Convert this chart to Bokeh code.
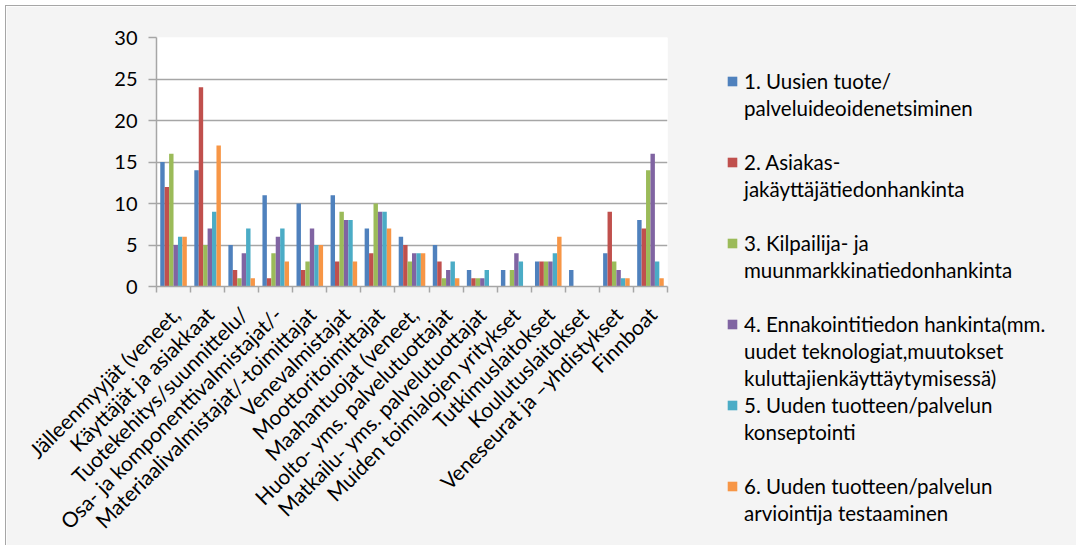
import math
from bokeh.plotting import figure
from bokeh.models import (ColumnDataSource, Range1d, FixedTicker, LinearAxis,
                          Legend, LegendItem, Grid)
from bokeh.transform import dodge
from bokeh.embed import file_html
from bokeh.resources import INLINE

categories = ["Jälleenmyyjät (veneet,", "Käyttäjät ja asiakkaat",
              "Tuotekehitys/suunnittelu/", "Osa- ja komponenttivalmistajat/-",
              "Materiaalivalmistajat/-toimittajat", "Venevalmistajat",
              "Moottoritoimittajat", "Maahantuojat (veneet,",
              "Huolto- yms. palvelutuottajat", "Matkailu- yms. palvelutuottajat",
              "Muiden toimialojen yritykset", "Tutkimuslaitokset",
              "Koulutuslaitokset", "Veneseurat ja –yhdistykset", "Finnboat"]

s1 = [15, 14, 5, 11, 10, 11, 7, 6, 5, 2, 2, 3, 2, 4, 8]
s2 = [12, 24, 2, 1, 2, 3, 4, 5, 3, 1, 0, 3, 0, 9, 7]
s3 = [16, 5, 1, 4, 3, 9, 10, 3, 1, 1, 2, 3, 0, 3, 14]
s4 = [5, 7, 4, 6, 7, 8, 9, 4, 2, 1, 4, 3, 0, 2, 16]
s5 = [6, 9, 7, 7, 5, 8, 9, 4, 3, 2, 3, 4, 0, 1, 3]
s6 = [6, 17, 1, 3, 5, 3, 7, 4, 1, 0, 0, 6, 0, 1, 1]

series_lines = [
    ["1. Uusien tuote/", "palveluideoidenetsiminen", " "],
    ["2. Asiakas-", "jakäyttäjätiedonhankinta", " "],
    ["3. Kilpailija- ja", "muunmarkkinatiedonhankinta", " "],
    ["4. Ennakointitiedon hankinta(mm.", "uudet teknologiat,muutokset",
     "kuluttajienkäyttäytymisessä)"],
    ["5. Uuden tuotteen/palvelun", "konseptointi", " "],
    ["6. Uuden tuotteen/palvelun", "arviointija testaaminen"],
]
colors = ["#4F81BD", "#C0504D", "#9BBB59", "#8064A2", "#4BACC6", "#F79646"]
y_ticks = [0, 5, 10, 15, 20, 25, 30]

FONT = "Lato"
n = len(categories)
centers = [i + 0.5 for i in range(n)]
source = ColumnDataSource(dict(x=centers, s1=s1, s2=s2, s3=s3, s4=s4, s5=s5, s6=s6))

p = figure(frame_width=511, frame_height=249,
           x_range=Range1d(0, n), y_range=Range1d(0, 30),
           output_backend="svg", toolbar_location=None,
           min_border_left=150, min_border_top=31,
           min_border_right=399, min_border_bottom=250,
           background_fill_color="white", border_fill_color="#f4f4f4",
           x_axis_type=None, y_axis_type=None)
p.outline_line_color = None
p.styles = {"margin-left": "5px", "margin-top": "5px",
            "border-left": "1px solid #a6a6a6", "border-top": "1px solid #a6a6a6"}

bw = 0.13
keys = ["s1", "s2", "s3", "s4", "s5", "s6"]
renderers = []
for i, (k, c) in enumerate(zip(keys, colors)):
    r = p.vbar(x=dodge("x", (i - 2.5) * bw, range=p.x_range), top=k, width=bw,
               source=source, fill_color=c, line_color=None)
    renderers.append(r)

# invisible renderer used for the continuation lines of the legend
blank = p.vbar(x=[], top=[], width=bw, fill_alpha=0, line_alpha=0)

# y axis
yax = LinearAxis(ticker=FixedTicker(ticks=y_ticks, minor_ticks=[]))
yax.axis_line_color = "#a6a6a6"
yax.axis_line_width = 1.5
yax.major_tick_line_color = "#a6a6a6"
yax.major_tick_line_width = 1.5
yax.major_tick_out = 8
yax.major_tick_in = 0
yax.major_label_standoff = 11
yax.major_label_text_font = FONT
yax.major_label_text_font_size = "20px"
yax.major_label_text_color = "#000000"
p.add_layout(yax, "left")

# x axis: labels near group centres, tick marks at group boundaries
label_pos = [c + 0.06 for c in centers]
xax = LinearAxis(ticker=FixedTicker(ticks=label_pos, minor_ticks=list(range(n + 1))))
xax.major_label_overrides = {c: lab for c, lab in zip(label_pos, categories)}
xax.major_label_orientation = math.pi / 4
xax.axis_line_color = "#a6a6a6"
xax.axis_line_width = 1.5
xax.major_tick_out = 0
xax.major_tick_in = 0
xax.minor_tick_line_color = "#a6a6a6"
xax.minor_tick_line_width = 1.5
xax.minor_tick_out = 6
xax.minor_tick_in = 0
xax.major_label_standoff = 18
xax.major_label_text_font = FONT
xax.major_label_text_font_size = "21px"
xax.major_label_text_color = "#000000"
p.add_layout(xax, "below")

g = Grid(dimension=1, ticker=FixedTicker(ticks=y_ticks, minor_ticks=[]))
g.grid_line_color = "#a6a6a6"
g.grid_line_width = 1.5
p.add_layout(g)

items = []
for lines, r in zip(series_lines, renderers):
    for j, line in enumerate(lines):
        items.append(LegendItem(label=line, renderers=[r if j == 0 else blank]))

legend = Legend(items=items)
legend.location = (59, -240)
legend.margin = 0
legend.padding = 0
legend.spacing = 0
legend.glyph_width = 12
legend.glyph_height = 12
legend.label_height = 27
legend.label_standoff = 6
legend.label_text_font = FONT
legend.label_text_font_size = "20.5px"
legend.label_text_color = "#000000"
legend.background_fill_alpha = 0
legend.border_line_color = None
p.add_layout(legend, "right")

open("out.html", "w").write(file_html(p, INLINE))
